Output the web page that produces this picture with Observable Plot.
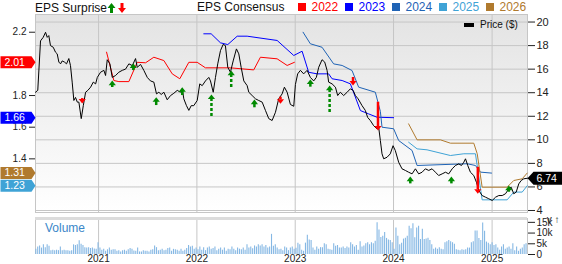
<!DOCTYPE html>
<html><head><meta charset="utf-8">
<script src="https://cdn.jsdelivr.net/npm/d3@7"></script>
<script src="https://cdn.jsdelivr.net/npm/@observablehq/plot@0.6"></script>
<style>
html,body{margin:0;padding:0;background:#fff;}
#chart{position:relative;width:562px;height:264px;overflow:hidden;font-family:"Liberation Sans",Arial,sans-serif;}
#chart svg{position:absolute;left:0;}
.lg{position:absolute;white-space:nowrap;font-size:12px;line-height:12px;}
.sq{position:absolute;width:8px;height:8px;}
#bg{position:absolute;left:35px;top:14px;width:492px;height:198px;background:linear-gradient(#e3e3e3,#ffffff);}
</style></head><body><div id="chart"><div id="bg"></div></div>
<script>
// ---------- data ----------
const price = [[2020.360,14.04],[2020.383,14.2],[2020.411,18.4],[2020.438,18.7],[2020.462,19.13],[2020.479,18.7],[2020.495,18.85],[2020.512,18.0],[2020.540,17.86],[2020.563,17.44],[2020.580,17.3],[2020.597,16.6],[2020.614,16.45],[2020.631,16.7],[2020.654,16.6],[2020.675,16.45],[2020.698,16.9],[2020.715,16.3],[2020.732,14.9],[2020.749,13.34],[2020.766,13.6],[2020.784,13.2],[2020.800,13.2],[2020.824,11.8],[2020.845,12.9],[2020.868,14.04],[2020.891,14.2],[2020.919,14.47],[2020.946,14.9],[2020.970,14.75],[2020.987,15.3],[2021.020,15.74],[2021.054,15.9],[2021.071,15.46],[2021.088,16.8],[2021.115,16.45],[2021.139,15.3],[2021.173,15.46],[2021.206,15.74],[2021.241,15.9],[2021.274,16.0],[2021.308,16.45],[2021.343,16.3],[2021.376,16.9],[2021.393,16.16],[2021.427,16.4],[2021.460,15.9],[2021.495,15.3],[2021.528,15.0],[2021.562,14.9],[2021.589,13.9],[2021.613,14.04],[2021.637,13.85],[2021.664,14.04],[2021.698,13.4],[2021.732,13.76],[2021.765,13.95],[2021.800,14.2],[2021.833,14.04],[2021.851,14.33],[2021.867,13.48],[2021.894,12.9],[2021.918,12.5],[2021.942,12.9],[2021.968,12.9],[2022.003,13.34],[2022.029,14.75],[2022.054,14.6],[2022.087,15.0],[2022.121,15.3],[2022.138,15.0],[2022.166,14.04],[2022.189,15.3],[2022.212,16.45],[2022.240,17.58],[2022.267,18.1],[2022.290,18.0],[2022.314,16.16],[2022.341,15.74],[2022.369,16.7],[2022.402,17.72],[2022.426,17.3],[2022.450,16.16],[2022.477,15.0],[2022.511,14.6],[2022.528,14.04],[2022.562,13.76],[2022.596,13.48],[2022.629,13.34],[2022.664,13.2],[2022.697,12.5],[2022.731,11.8],[2022.765,11.64],[2022.799,12.34],[2022.832,13.48],[2022.867,13.9],[2022.890,14.47],[2022.918,14.04],[2022.951,13.0],[2022.985,12.85],[2023.002,14.7],[2023.025,15.6],[2023.053,15.9],[2023.086,15.6],[2023.121,15.9],[2023.154,15.3],[2023.188,15.0],[2023.215,15.3],[2023.239,16.16],[2023.273,16.8],[2023.300,16.6],[2023.324,15.9],[2023.340,14.9],[2023.375,14.75],[2023.409,14.47],[2023.432,13.76],[2023.459,14.04],[2023.493,13.76],[2023.528,14.04],[2023.561,14.33],[2023.589,14.2],[2023.612,13.76],[2023.640,13.48],[2023.680,12.9],[2023.713,12.5],[2023.737,11.9],[2023.764,11.64],[2023.798,11.2],[2023.832,10.93],[2023.849,11.07],[2023.866,9.94],[2023.883,8.81],[2023.900,8.39],[2023.934,8.52],[2023.967,8.81],[2023.995,9.5],[2024.018,9.09],[2024.052,8.1],[2024.086,7.54],[2024.120,7.4],[2024.153,7.25],[2024.188,7.11],[2024.222,7.54],[2024.255,7.11],[2024.290,7.25],[2024.323,7.54],[2024.357,7.4],[2024.391,7.54],[2024.425,7.25],[2024.458,6.97],[2024.493,7.11],[2024.527,7.25],[2024.560,7.11],[2024.595,7.54],[2024.628,7.82],[2024.662,7.96],[2024.689,7.82],[2024.713,8.1],[2024.730,8.39],[2024.753,7.82],[2024.780,7.25],[2024.814,6.97],[2024.841,6.4],[2024.865,5.7],[2024.899,5.27],[2024.933,5.13],[2024.966,5.0],[2025.001,4.85],[2025.035,5.13],[2025.068,5.27],[2025.103,5.27],[2025.136,5.42],[2025.170,5.84],[2025.194,5.98],[2025.220,5.42],[2025.245,5.56],[2025.271,6.26],[2025.296,6.55],[2025.322,6.69],[2025.360,6.74]];

const eps2022 = [[2021.081,2.074],[2021.155,1.895],[2021.206,1.888],[2021.308,1.888],[2021.393,2.01],[2021.478,2.007],[2021.562,2.042],[2021.664,2.021],[2021.749,1.937],[2021.826,1.906],[2021.918,2.01],[2022.003,2.01],[2022.087,1.975],[2022.341,1.975],[2022.578,1.962],[2022.646,2.042],[2022.816,2.032],[2022.918,1.99],[2022.992,2.01]];
const eps2023 = [[2022.070,2.19],[2022.145,2.19],[2022.240,2.133],[2022.314,2.122],[2022.410,2.175],[2022.511,2.175],[2022.816,2.148],[2022.985,2.053],[2023.070,2.08],[2023.137,1.947],[2023.222,1.937],[2023.340,1.937],[2023.375,1.906],[2023.477,1.895],[2023.561,1.874],[2023.663,1.705],[2023.747,1.684],[2023.832,1.663],[2024.001,1.66]];
const eps2024 = [[2023.080,2.2],[2023.154,2.127],[2023.273,2.105],[2023.391,2.0],[2023.477,1.99],[2023.578,1.958],[2023.645,1.853],[2023.815,1.821],[2023.866,1.70],[2023.883,1.60],[2024.001,1.59],[2024.052,1.516],[2024.188,1.453],[2024.239,1.358],[2024.747,1.369],[2024.831,1.358],[2024.882,1.316],[2024.994,1.31]];
const eps2025 = [[2024.153,1.505],[2024.239,1.463],[2024.340,1.457],[2024.577,1.421],[2024.713,1.432],[2024.831,1.432],[2024.899,1.141],[2025.153,1.141],[2025.220,1.19],[2025.306,1.19],[2025.357,1.23]];
const eps2026 = [[2024.153,1.621],[2024.239,1.52],[2024.476,1.52],[2024.577,1.499],[2024.814,1.499],[2024.849,1.432],[2024.899,1.221],[2025.153,1.221],[2025.220,1.263],[2025.306,1.274],[2025.357,1.31]];

// EPS surprise arrows: date, tip price, tail price, direction (+1 beat / -1 miss)
const surpriseT    = [2020.834,2021.139,2021.353,2021.586,2021.851,2022.148,2022.349,2022.585,2022.850,2023.154,2023.350,2023.588,2023.842,2024.170,2024.587,2024.855,2025.170];
const surpriseTip  = [13.08,15.03,16.48,13.62,14.47,13.85,15.88,13.42,13.06,15.12,14.61,14.61,10.79,6.88,6.88,5.42,6.12];
const surpriseTail = [13.5,14.44,15.88,12.91,13.76,11.92,14.33,12.72,13.62,14.47,12.21,15.29,13.19,6.26,6.26,7.67,5.55];
const surpriseDir  = [-1,1,1,1,1,1,1,1,-1,1,1,-1,-1,1,1,-1,1];

// weekly volume (thousands)
const volumeStart = "2020-05-13";
const volumeK = [2.5,3.5,4,3,4.5,3.2,4.6,3.8,1.8,2,1.8,
 2,1.8,3.5,1.8,2,1.8,1.8,1.5,1.8,4.5,
 4.2,4.5,6.4,4.8,4.2,3.2,3,3.2,2.8,3,2.6,
 2.5,5.5,3,2,2.5,1.5,2.2,3,2,2.2,
 2.2,1.5,1.8,1.2,1.8,2,1.5,2.2,2.8,2.5,1.6,
 1.5,3,1.2,1.2,1.8,1.5,1.5,1.2,2,2.2,
 4,3.2,1.8,2,2.5,1.8,2,2.8,3,1.5,2.4,
 2.2,2,1.5,2.5,1.5,2,2.8,4.2,3.5,3.8,
 2.5,3,2.2,3.5,2,3.2,1.8,3,3.5,2.5,2.8,
 3.5,1.8,2.5,3,2,3,1.5,2.5,2.2,3.5,
 2.5,1.8,3,2.5,2.2,3,2,4.5,3,3.5,2.7,
 4,3.5,4.5,4,4.5,3.5,4.2,3,3.5,9.4,
 3.8,4.5,3,2.2,2.5,1.8,3.5,3,1.8,3,3.5,2.5,2.9,
 5.3,4.5,2,1.5,5.3,9,6.8,6.5,3,2,
 3.5,2.5,3.2,3.2,5,4.5,2.5,2.2,2,5,3.8,
 4.2,3,3,3.5,2.8,3.5,3,5.5,4.5,3.5,
 4.2,2,6,3.5,4,5,5.5,4.5,5.5,5,6.2,
 14.8,11.4,7.9,8.5,10.3,7.5,6.8,6.5,5.5,2.5,
 12.4,8.5,4.5,5.3,7.2,7.6,8.5,13.2,12,14.4,7.8,
 12.4,13.2,7,11.8,7,7.2,7.6,6.5,4.5,2.5,
 3,2.5,3.2,2.5,2.2,5.5,6,6.5,6,5.5,4.8,
 2.2,2,1.8,2.2,2,2.2,3,3,5.5,6,
 11,11,7.5,6.5,14.7,10.9,5.8,5.3,4.5,5.5,4.2,
 4.5,3,2,3.5,4.5,2.5,3,3.5,2.5,5,
 1.8,3.5,1.5,2.5,3,4.5,5];

const priceTicks = [4,6,8,10,12,14,16,18,20];
const epsTicks = [2.2,1.8,1.6,1.4];
const volTicks = [0,5,10,15];
const yearTicks = [2021,2022,2023,2024,2025];
const epsLabelValues = [2.01,1.66,1.31,1.23];
const lastPrice = 6.74;
const consensusYears = ["2022","2023","2024","2025","2026"];

// ---------- helpers ----------
const C = {y2022:"#ff0000", y2023:"#0000ff", y2024:"#1f63b5", y2025:"#3fa3d6", y2026:"#b07a2e"};
const seriesColors = [C.y2022,C.y2023,C.y2024,C.y2025,C.y2026];
const labelColors = [C.y2022,C.y2023,C.y2026,C.y2025];
const yd = t => { const y = Math.floor(t), a = Date.UTC(y,0,1), b = Date.UTC(y+1,0,1); return new Date(a + (t - y)*(b - a)); };
const xDomain = [yd(2020.36), yd(2025.36)];
const yearDates = yearTicks.map(y => new Date(Date.UTC(y,0,1)));
const FONT = "Liberation Sans, Arial, sans-serif";
const chart = document.getElementById("chart");

const upHead = {draw(c){c.moveTo(0,0);c.lineTo(3.6,4.6);c.lineTo(-3.6,4.6);c.closePath();}};
const downHead = {draw(c){c.moveTo(0,0);c.lineTo(3.6,-4.6);c.lineTo(-3.6,-4.6);c.closePath();}};
const leftFlag = {draw(c){c.moveTo(-35,-6);c.lineTo(-4,-6);c.lineTo(0,0);c.lineTo(-4,6);c.lineTo(-35,6);c.closePath();}};
const rightFlag = {draw(c){c.moveTo(0,0);c.lineTo(6,-6.5);c.lineTo(35,-6.5);c.lineTo(35,6.5);c.lineTo(6,6.5);c.closePath();}};

const common = {width:562, height:213, marginLeft:35, marginRight:35, marginTop:14, marginBottom:1};
const xOpt = {type:"utc", domain:xDomain, axis:null};
const priceY = {domain:[3.83,20.64]};

// layer 1: grid, frame, right axis
const p1 = Plot.plot({...common,
  style:{background:"transparent", overflow:"visible", fontFamily:FONT, fontSize:"11px", color:"#222"},
  x:xOpt,
  y:{...priceY, axis:"right", ticks:priceTicks, tickSize:7, tickPadding:2, tickFormat:d=>String(d)},
  marks:[
    Plot.ruleY(priceTicks,{stroke:"#c6c6c6"}),
    Plot.ruleX(yearDates,{stroke:"#c6c6c6"}),
    Plot.frame({stroke:"#c6c6c6"})
  ]});

// layer 2: EPS consensus (left scale)
const epsSeries = [eps2022,eps2023,eps2024,eps2025,eps2026];
const p2 = Plot.plot({...common,
  style:{background:"transparent", overflow:"visible", fontFamily:FONT, fontSize:"10px", color:"#222"},
  x:xOpt,
  y:{domain:[1.061,2.312], axis:"left", ticks:epsTicks, tickSize:6, tickPadding:3, tickFormat:d3.format(".1f")},
  marks:[
    ...epsSeries.map((s,k)=>Plot.line(s,{x:d=>yd(d[0]), y:d=>d[1], stroke:seriesColors[k], strokeWidth:1})),
    ...epsLabelValues.map((v,k)=>Plot.dot([v],{y:d=>d, frameAnchor:"left", symbol:leftFlag, fill:labelColors[k]})),
    Plot.text(epsLabelValues,{y:d=>d, frameAnchor:"left", dx:-31, text:d=>d.toFixed(2), textAnchor:"start", fill:"white", fontSize:10.5})
  ]});

// layer 3: price line, surprise arrows, last price flag
const surprises = surpriseT.map((t,i)=>({date:yd(t), tip:surpriseTip[i], tail:surpriseTail[i], dir:surpriseDir[i]}));
const beats = surprises.filter(d=>d.dir>0), misses = surprises.filter(d=>d.dir<0);
const GREEN = "#008a00", RED = "#ff0000";
const p3 = Plot.plot({...common,
  style:{background:"transparent", overflow:"visible", fontFamily:FONT, fontSize:"11px"},
  x:xOpt, y:{...priceY, axis:null},
  marks:[
    Plot.line(price,{x:d=>yd(d[0]), y:d=>d[1], stroke:"#000", strokeWidth:1}),
    Plot.ruleX(beats.filter(d=>d.tip-d.tail<=1.2),{x:"date", y1:"tip", y2:"tail", stroke:GREEN, strokeWidth:2.5, insetTop:4}),
    Plot.ruleX(beats.filter(d=>d.tip-d.tail>1.2),{x:"date", y1:"tip", y2:"tail", stroke:GREEN, strokeWidth:2.5, insetTop:4, strokeDasharray:"3,2"}),
    Plot.dot(beats,{x:"date", y:"tip", symbol:upHead, fill:GREEN}),
    Plot.ruleX(misses,{x:"date", y1:"tail", y2:"tip", stroke:RED, strokeWidth:2.5, insetBottom:4}),
    Plot.dot(misses,{x:"date", y:"tip", symbol:downHead, fill:RED}),
    Plot.dot([lastPrice],{y:d=>d, frameAnchor:"right", symbol:rightFlag, fill:"#000"}),
    Plot.text([lastPrice],{y:d=>d, frameAnchor:"right", dx:9, text:d=>d.toFixed(2), textAnchor:"start", fill:"white", fontSize:10.5})
  ]});

// volume panel
const v0 = new Date(volumeStart + "T00:00:00Z").getTime();
const volume = volumeK.map((v,i)=>({date:new Date(v0 + i*7*864e5), v}));
const volMax = 16.8;
const p4 = Plot.plot({width:562, height:52, marginLeft:35, marginRight:35, marginTop:6, marginBottom:10,
  style:{background:"transparent", overflow:"visible", fontFamily:FONT, fontSize:"10px", color:"#222"},
  x:{type:"utc", domain:xDomain, ticks:yearDates, tickFormat:d3.utcFormat("%Y"), tickSize:0, tickPadding:0},
  y:{domain:[0,volMax], axis:"right", ticks:volTicks, tickFormat:d=>d===0?"0":d+"k", tickSize:7, tickPadding:2},
  marks:[
    Plot.ruleX(yearDates,{stroke:"#c6c6c6"}),
    Plot.ruleX(xDomain,{stroke:"#c6c6c6"}),
    Plot.ruleY([volMax],{stroke:"#dcdcdc", strokeWidth:3}),
    Plot.ruleX(volume,{x:"date", y1:0, y2:"v", stroke:"#86b8e4", strokeWidth:1.1})
  ]});

[p1,p2,p3].forEach(p=>{p.style.top="0px"; chart.appendChild(p);});
p4.style.top="212px"; chart.appendChild(p4);

// legends (HTML)
function addDiv(cls, css, html){const d=document.createElement("div"); d.className=cls; Object.assign(d.style,css); d.innerHTML=html||""; chart.appendChild(d); return d;}
addDiv("lg",{left:"35px",top:"1.5px",color:"#111"},"EPS Surprise");
addDiv("lg",{left:"107px",top:"2.5px"},'<svg width="20" height="11"><path d="M4.5 0 L8.5 5 L6 5 L6 10 L3 10 L3 5 L0.5 5 Z" fill="'+GREEN+'"/><path d="M15 10 L19 5 L16.5 5 L16.5 0 L13.5 0 L13.5 5 L11 5 Z" fill="'+RED+'"/></svg>');
addDiv("lg",{left:"197px",top:"0.8px",color:"#111"},"EPS Consensus");
consensusYears.forEach((y,k)=>{
  const L = 298 + 47*k;
  addDiv("sq",{left:L+"px",top:"2.5px",background:seriesColors[k]});
  addDiv("lg",{left:(L+13.5)+"px",top:"0.8px",color:seriesColors[k]},y);
});
addDiv("sq",{left:"464px",top:"22.5px",width:"10px",height:"4.5px",background:"#000"});
addDiv("lg",{left:"480px",top:"20px",fontSize:"10px",lineHeight:"10px",color:"#111"},"Price ($)");
addDiv("lg",{left:"45px",top:"222px",color:"#3b87c9"},"Volume");
</script></body></html>
